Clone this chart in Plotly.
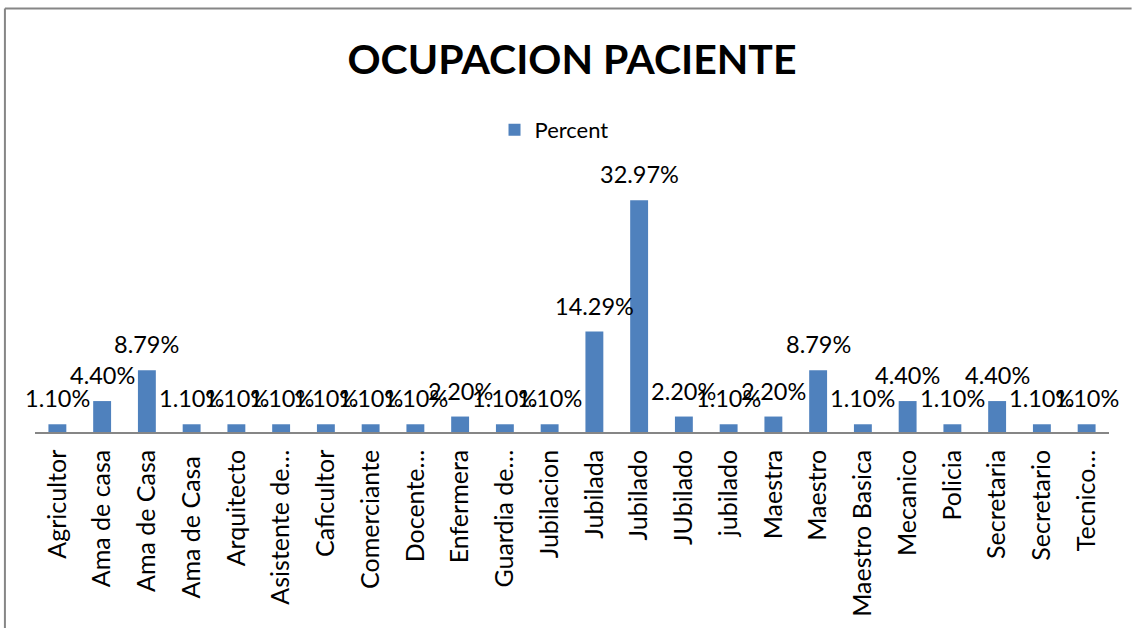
import plotly.graph_objects as go

categories = ["Agricultor", "Ama de casa", "Ama de Casa", "Ama de Casa ", "Arquitecto",
              "Asistente de…", "Caficultor", "Comerciante", "Docente…", "Enfermera",
              "Guardia de…", "Jubilacion", "Jubilada", "Jubilado", "JUbilado", "jubilado",
              "Maestra", "Maestro", "Maestro Basica", "Mecanico", "Policia", "Secretaria",
              "Secretario", "Tecnico…"]
percent = [1.10, 4.40, 8.79, 1.10, 1.10, 1.10, 1.10, 1.10, 1.10, 2.20, 1.10, 1.10,
           14.29, 32.97, 2.20, 1.10, 2.20, 8.79, 1.10, 4.40, 1.10, 4.40, 1.10, 1.10]
series_name = "Percent"
title_text = "OCUPACION PACIENTE"

W, H = 1132, 628
ml, mr, mt, mb = 34.6, 22.6, 186, 196
FONT = "Lato"
idx = list(range(len(categories)))

fig = go.Figure()
fig.add_trace(go.Bar(
    x=idx, y=percent, name=series_name, width=0.4,
    marker=dict(color="#4F81BD", line=dict(width=0)),
    showlegend=True, hoverinfo="skip",
))

for i, v in zip(idx, percent):
    fig.add_annotation(x=i, y=v, text=f"{v:.2f}%", showarrow=False,
                       xanchor="center", yanchor="bottom", yshift=10,
                       font=dict(family=FONT, size=23.5, color="#000000"))

pw = W - ml - mr
ph = H - mt - mb
def px_x(p):
    return (p - ml) / pw
def px_y(p):
    return (H - mb - p) / ph

border = dict(color="#868686", width=2)
fig.add_shape(type="line", xref="paper", yref="paper", x0=px_x(4.5), x1=px_x(1132), y0=px_y(8.5), y1=px_y(8.5), line=border)
fig.add_shape(type="line", xref="paper", yref="paper", x0=px_x(4.5), x1=px_x(4.5), y0=px_y(8.5), y1=px_y(628), line=border)

fig.update_layout(
    width=W, height=H,
    margin=dict(l=ml, r=mr, t=mt, b=mb, pad=0, autoexpand=False),
    paper_bgcolor="white", plot_bgcolor="white",
    title=dict(text=f"<b>{title_text}</b>", x=0.5, xref="paper", xanchor="center",
               y=1 - 60 / H, yanchor="middle",
               font=dict(family=FONT, size=41, color="#000000")),
    legend=dict(orientation="h", x=0.5 - 18 / pw, xanchor="center", xref="paper",
                y=px_y(130), yanchor="middle", yref="paper",
                font=dict(family=FONT, size=22, color="#000000"),
                bgcolor="rgba(0,0,0,0)", itemwidth=30),
    xaxis=dict(range=[-0.5, len(categories) - 0.5], tickvals=idx, ticktext=categories,
               tickangle=-90, ticks="", showgrid=False, zeroline=False,
               showline=True, linecolor="#868686", linewidth=1.5,
               ticklabelstandoff=6,
               tickfont=dict(family=FONT, size=25, color="#000000")),
    yaxis=dict(range=[0, 35], visible=False, showgrid=False, zeroline=False),
    bargap=0.6,
)

fig.write_html("out.html", config={"displayModeBar": False},
               post_script="document.body.style.margin='0';")
